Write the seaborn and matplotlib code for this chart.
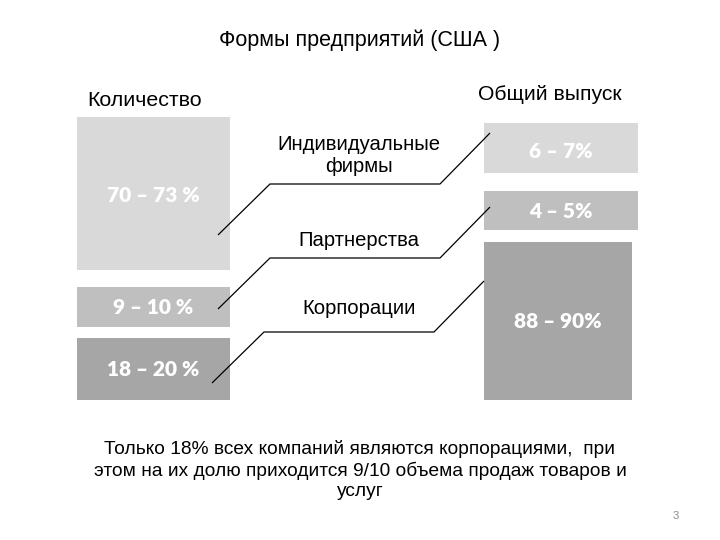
import matplotlib
matplotlib.use("Agg")
import matplotlib.pyplot as plt
import seaborn as sns

# ---- content ----
title = "Формы предприятий (США )"
left_header = "Количество"
right_header = "Общий выпуск"
forms = ["Индивидуальные\nфирмы", "Партнерства", "Корпорации"]
count_labels = ["70 – 73 %", "9 – 10 %", "18 – 20 %"]
output_labels = ["6 – 7%", "4 – 5%", "88 – 90%"]
footnote = ("Только 18% всех компаний являются корпорациями,  при\n"
            "этом на их долю приходится 9/10 объема продаж товаров и\n"
            "услуг")
page_number = "3"

# ---- layout (pixel coordinates of the slide) ----
shades = ["#d9d9d9", "#bfbfbf", "#a6a6a6"]
left_x, left_w = 77, 153
left_top = [117, 287, 338]
left_bot = [270, 327, 400]
right_x = 484
right_w = [154, 154, 148]
right_top = [123, 191, 242]
right_bot = [173, 230, 400]
label_y_left = [196, 308, 370]
label_y_right = [151, 212, 322]
# connector polylines: start on left box, elbow, horizontal run, end on right box
conn_start = [(218, 235), (218, 309), (212, 383)]
conn_dx = 52
conn_len = 170
conn_end_dx = 50
form_text_y = [155, 240, 309]

sns.set_style("white")
plt.rcParams['font.family'] = ['Liberation Sans', 'DejaVu Sans']
plt.rcParams['text.color'] = 'black'

fig = plt.figure(figsize=(7.2, 5.4), dpi=100)
ax = fig.add_axes([0, 0, 1, 1])
ax.set_xlim(0, 720)
ax.set_ylim(540, 0)
ax.axis("off")

# boxes
ax.bar([left_x + left_w / 2] * 3, [b - t for t, b in zip(left_top, left_bot)],
       bottom=left_top, width=left_w, color=shades, edgecolor="none")
ax.bar([right_x + w / 2 for w in right_w],
       [b - t for t, b in zip(right_top, right_bot)],
       bottom=right_top, width=right_w, color=shades, edgecolor="none")

for lab, y in zip(count_labels, label_y_left):
    ax.text(left_x + left_w / 2, y, lab, ha="center", va="center", color="white",
            fontsize=15, fontweight="heavy", family=["Lato", "DejaVu Sans"])
for lab, y, w in zip(output_labels, label_y_right, right_w):
    ax.text(right_x + w / 2, y, lab, ha="center", va="center", color="white",
            fontsize=15, fontweight="heavy", family=["Lato", "DejaVu Sans"])

# connectors
for (sx, sy) in conn_start:
    ey = sy - 51
    xs = [sx, sx + conn_dx, sx + conn_dx + conn_len, sx + conn_dx + conn_len + conn_end_dx]
    ys = [sy, ey, ey, ey - 51]
    ax.plot(xs, ys, color="black", lw=0.9, solid_capstyle="butt")

for lab, y in zip(forms, form_text_y):
    ax.text(359, y, lab, ha="center", va="center", fontsize=14.6, linespacing=1.2)

ax.text(360, 40, title, ha="center", va="center", fontsize=15.5)
ax.text(145, 100, left_header, ha="center", va="center", fontsize=15.4)
ax.text(550, 94, right_header, ha="center", va="center", fontsize=15.2)
ax.text(360, 470, footnote, ha="center", va="center", fontsize=13.8, linespacing=1.26)
ax.text(676, 516, page_number, ha="center", va="center", fontsize=8, color="#8c8c8c")

fig.savefig("out.png", dpi=100)
